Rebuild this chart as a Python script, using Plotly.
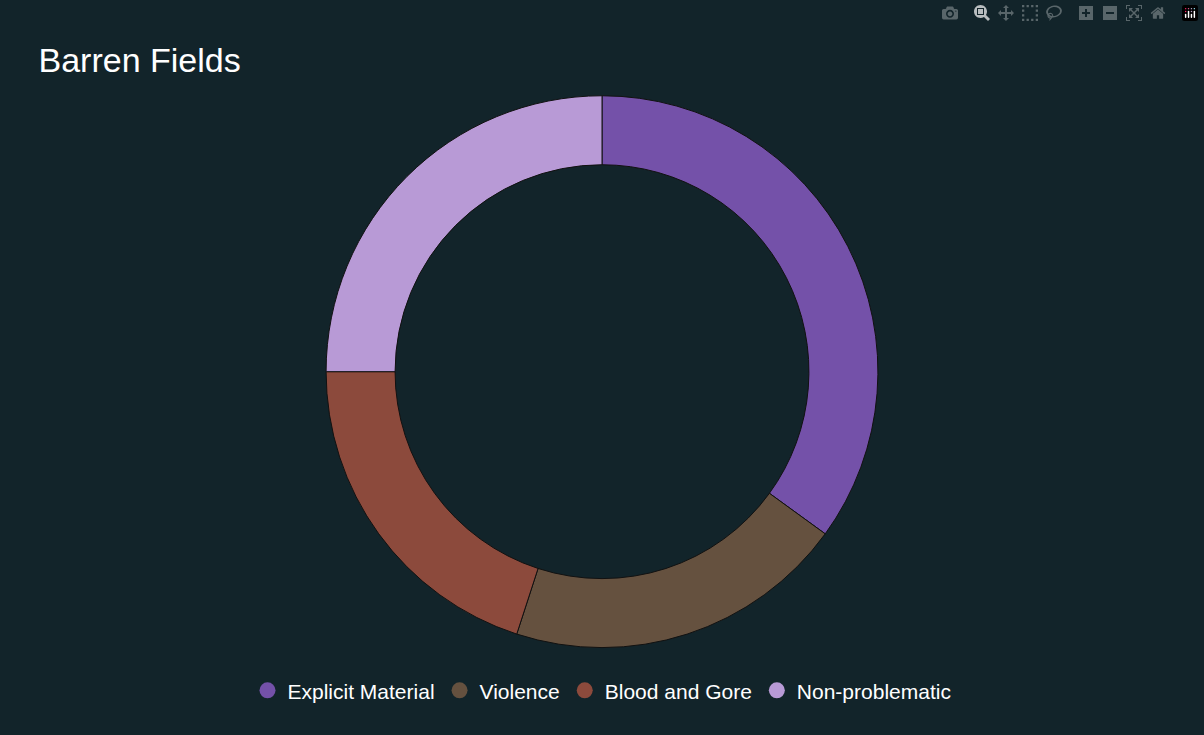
import plotly.graph_objects as go

labels = ["Explicit Material", "Violence", "Blood and Gore", "Non-problematic"]
values = [35, 20, 20, 25]
colors = ["#7451a9", "#65513f", "#8c4a3c", "#b89ad6"]

fig = go.Figure()
fig.add_trace(go.Pie(labels=labels, values=values, hole=0.75, sort=False, direction="clockwise",
                     rotation=0, textinfo="none", showlegend=False,
                     marker=dict(colors=colors, line=dict(color="#111111", width=1)),
                     domain=dict(x=[0, 1], y=[0.097, 0.891])))
for l, c in zip(labels, colors):
    fig.add_trace(go.Scatter(x=[None], y=[None], mode="markers", name=l,
                             marker=dict(symbol="circle", size=22, color=c)))
fig.update_layout(
    width=1204, height=735, paper_bgcolor="#12242a", plot_bgcolor="#12242a",
    margin=dict(l=20, r=20, t=20, b=20),
    title=dict(text="Barren Fields", x=0.032, y=0.935, xanchor="left",
               font=dict(family="Liberation Sans, Arial", size=34, color="white")),
    xaxis=dict(visible=False), yaxis=dict(visible=False),
    legend=dict(orientation="h", x=0.5, xanchor="center", y=0.035, yanchor="middle",
                font=dict(family="Liberation Sans, Arial", size=21, color="white"),
                itemsizing="trace"),
)
fig.write_html("out.html", post_script="document.body.style.margin='0';document.body.style.background='#12242a';")
